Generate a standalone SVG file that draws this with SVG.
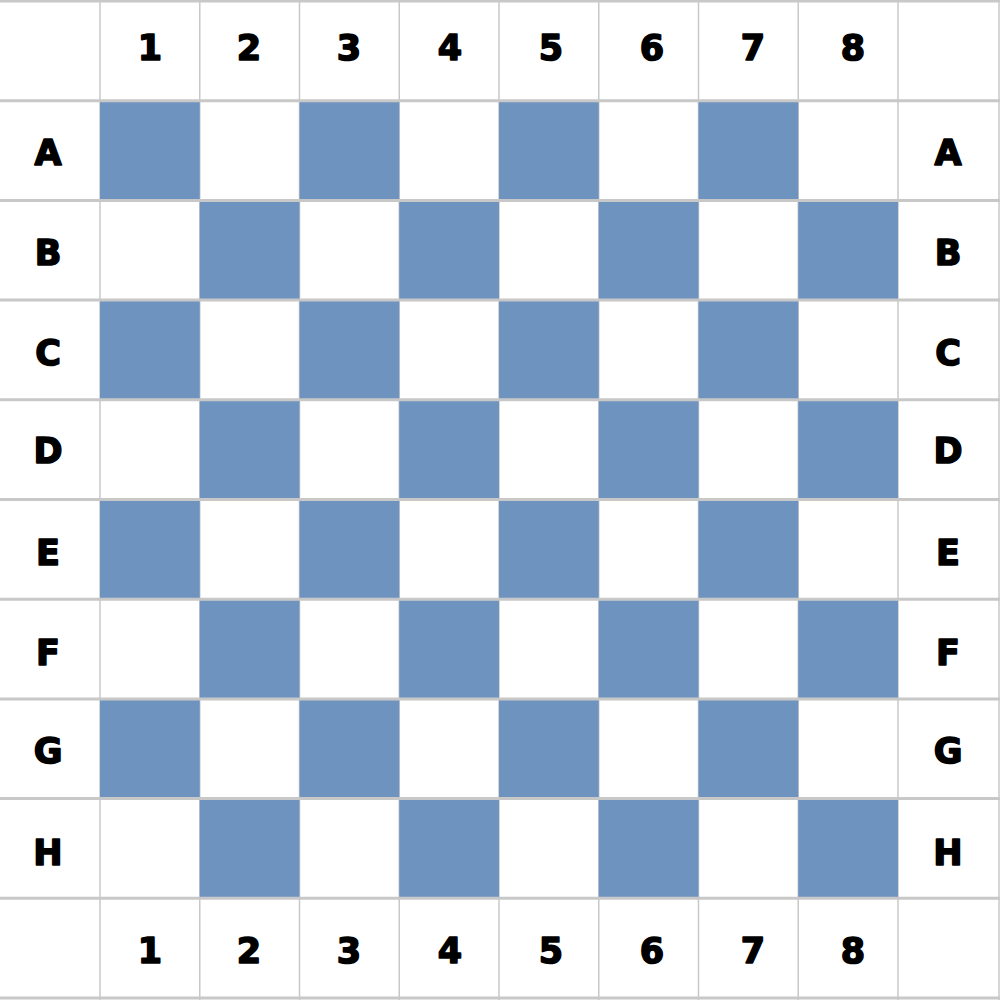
<svg xmlns="http://www.w3.org/2000/svg" width="1000" height="1000" viewBox="0 0 1000 1000">
<style>
.b{fill:#6f93bf}
.v{stroke:#c8c8c8;stroke-width:1.5}
.h{stroke:#c8c8c8;stroke-width:3}
.t{font-family:"DejaVu Sans",Verdana,sans-serif;font-weight:bold;font-size:35px;fill:#000;stroke:#000;stroke-width:1.6;stroke-linejoin:round;text-anchor:middle}
</style>
<rect x="0" y="0" width="1000" height="1000" fill="#ffffff"/>
<g id="vlines">
<line class="v" x1="100" y1="0" x2="100" y2="1000"/>
<line class="v" x1="199.75" y1="0" x2="199.75" y2="1000"/>
<line class="v" x1="299.5" y1="0" x2="299.5" y2="1000"/>
<line class="v" x1="399.25" y1="0" x2="399.25" y2="1000"/>
<line class="v" x1="499" y1="0" x2="499" y2="1000"/>
<line class="v" x1="598.75" y1="0" x2="598.75" y2="1000"/>
<line class="v" x1="698.5" y1="0" x2="698.5" y2="1000"/>
<line class="v" x1="798.25" y1="0" x2="798.25" y2="1000"/>
<line class="v" x1="898" y1="0" x2="898" y2="1000"/>
<line class="v" x1="999" y1="0" x2="999" y2="1000"/>
</g>
<g id="squares">
<rect class="b" x="100" y="100.7" width="99.75" height="99.7"/>
<rect class="b" x="299.5" y="100.7" width="99.75" height="99.7"/>
<rect class="b" x="499" y="100.7" width="99.75" height="99.7"/>
<rect class="b" x="698.5" y="100.7" width="99.75" height="99.7"/>
<rect class="b" x="199.75" y="200.4" width="99.75" height="99.7"/>
<rect class="b" x="399.25" y="200.4" width="99.75" height="99.7"/>
<rect class="b" x="598.75" y="200.4" width="99.75" height="99.7"/>
<rect class="b" x="798.25" y="200.4" width="99.75" height="99.7"/>
<rect class="b" x="100" y="300.1" width="99.75" height="99.7"/>
<rect class="b" x="299.5" y="300.1" width="99.75" height="99.7"/>
<rect class="b" x="499" y="300.1" width="99.75" height="99.7"/>
<rect class="b" x="698.5" y="300.1" width="99.75" height="99.7"/>
<rect class="b" x="199.75" y="399.8" width="99.75" height="99.7"/>
<rect class="b" x="399.25" y="399.8" width="99.75" height="99.7"/>
<rect class="b" x="598.75" y="399.8" width="99.75" height="99.7"/>
<rect class="b" x="798.25" y="399.8" width="99.75" height="99.7"/>
<rect class="b" x="100" y="499.5" width="99.75" height="99.7"/>
<rect class="b" x="299.5" y="499.5" width="99.75" height="99.7"/>
<rect class="b" x="499" y="499.5" width="99.75" height="99.7"/>
<rect class="b" x="698.5" y="499.5" width="99.75" height="99.7"/>
<rect class="b" x="199.75" y="599.2" width="99.75" height="99.7"/>
<rect class="b" x="399.25" y="599.2" width="99.75" height="99.7"/>
<rect class="b" x="598.75" y="599.2" width="99.75" height="99.7"/>
<rect class="b" x="798.25" y="599.2" width="99.75" height="99.7"/>
<rect class="b" x="100" y="698.9" width="99.75" height="99.7"/>
<rect class="b" x="299.5" y="698.9" width="99.75" height="99.7"/>
<rect class="b" x="499" y="698.9" width="99.75" height="99.7"/>
<rect class="b" x="698.5" y="698.9" width="99.75" height="99.7"/>
<rect class="b" x="199.75" y="798.6" width="99.75" height="99.7"/>
<rect class="b" x="399.25" y="798.6" width="99.75" height="99.7"/>
<rect class="b" x="598.75" y="798.6" width="99.75" height="99.7"/>
<rect class="b" x="798.25" y="798.6" width="99.75" height="99.7"/>
</g>
<g id="hlines">
<line class="h" x1="0" y1="1" x2="1000" y2="1"/>
<line class="h" x1="0" y1="100.7" x2="1000" y2="100.7"/>
<line class="h" x1="0" y1="200.4" x2="1000" y2="200.4"/>
<line class="h" x1="0" y1="300.1" x2="1000" y2="300.1"/>
<line class="h" x1="0" y1="399.8" x2="1000" y2="399.8"/>
<line class="h" x1="0" y1="499.5" x2="1000" y2="499.5"/>
<line class="h" x1="0" y1="599.2" x2="1000" y2="599.2"/>
<line class="h" x1="0" y1="698.9" x2="1000" y2="698.9"/>
<line class="h" x1="0" y1="798.6" x2="1000" y2="798.6"/>
<line class="h" x1="0" y1="898.3" x2="1000" y2="898.3"/>
<line class="h" x1="0" y1="998" x2="1000" y2="998"/>
</g>
<g id="top-labels">
<text class="t" x="150" y="60">1</text>
<text class="t" x="249" y="60">2</text>
<text class="t" x="349" y="60">3</text>
<text class="t" x="450" y="60">4</text>
<text class="t" x="551" y="60">5</text>
<text class="t" x="652" y="60">6</text>
<text class="t" x="753" y="60">7</text>
<text class="t" x="853" y="60">8</text>
</g>
<g id="bottom-labels">
<text class="t" x="150" y="963">1</text>
<text class="t" x="249" y="963">2</text>
<text class="t" x="349" y="963">3</text>
<text class="t" x="450" y="963">4</text>
<text class="t" x="551" y="963">5</text>
<text class="t" x="652" y="963">6</text>
<text class="t" x="753" y="963">7</text>
<text class="t" x="853" y="963">8</text>
</g>
<g id="left-labels">
<text class="t" x="48" y="165">A</text>
<text class="t" x="48" y="265">B</text>
<text class="t" x="48" y="365">C</text>
<text class="t" x="48" y="463">D</text>
<text class="t" x="48" y="565">E</text>
<text class="t" x="48" y="665">F</text>
<text class="t" x="48" y="763">G</text>
<text class="t" x="48" y="865">H</text>
</g>
<g id="right-labels">
<text class="t" x="948" y="165">A</text>
<text class="t" x="948" y="265">B</text>
<text class="t" x="948" y="365">C</text>
<text class="t" x="948" y="463">D</text>
<text class="t" x="948" y="565">E</text>
<text class="t" x="948" y="665">F</text>
<text class="t" x="948" y="763">G</text>
<text class="t" x="948" y="865">H</text>
</g>
</svg>
